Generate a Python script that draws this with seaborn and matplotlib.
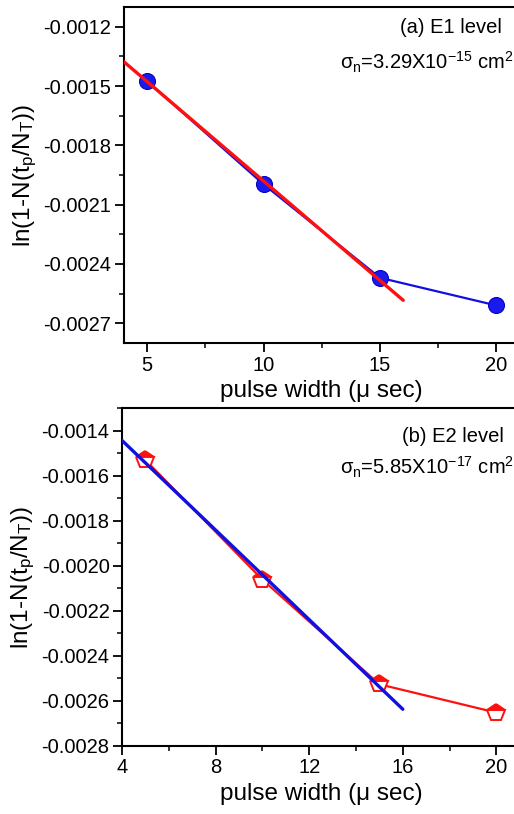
import numpy as np
import pandas as pd
import matplotlib
matplotlib.use("Agg")
import matplotlib.pyplot as plt
import seaborn as sns
from matplotlib.ticker import MultipleLocator

# ---- data ----
pulse_width = [5, 10, 15, 20]
e1_values = [-0.001475, -0.001997, -0.00247, -0.00261]
e1_fit_x = [4, 16]
e1_fit_y = [-0.001377, -0.002584]

e2_values = [-0.00153, -0.002062, -0.002527, -0.002653]
e2_fit_x = [4, 16]
e2_fit_y = [-0.001443, -0.002638]

e1_label = "(a) E1 level"
e1_sigma = r"$\mathregular{\sigma_n}$=3.29X10$^{\mathregular{-15}}$ cm$^{\mathregular{2}}$"
e2_label = "(b) E2 level"
e2_sigma = r"$\mathregular{\sigma_n}$=5.85X10$^{\mathregular{-17}}$ cm$^{\mathregular{2}}$"
xlabel = "pulse width (\u03bc sec)"
ylabel = r"ln(1-N(t$_{\mathregular{p}}$/N$_{\mathregular{T}}$))"

sns.set_style("ticks")
plt.rcParams["font.family"] = ["Liberation Sans", "DejaVu Sans"]
plt.rcParams["mathtext.fontset"] = "custom"
plt.rcParams["mathtext.rm"] = "Liberation Sans"
plt.rcParams["mathtext.it"] = "Liberation Sans"
plt.rcParams["axes.unicode_minus"] = False
plt.rcParams["text.color"] = "black"
plt.rcParams["axes.labelcolor"] = "black"
plt.rcParams["xtick.color"] = "black"
plt.rcParams["ytick.color"] = "black"

fig = plt.figure(figsize=(5.14, 8.14), dpi=100)
ax1 = fig.add_axes([0.241, 0.5786, 0.77, 0.4128])
ax2 = fig.add_axes([0.2374, 0.0839, 0.774, 0.4145])

df1 = pd.DataFrame({"x": pulse_width, "y": e1_values})
df2 = pd.DataFrame({"x": pulse_width, "y": e2_values})
fit1 = pd.DataFrame({"x": e1_fit_x, "y": e1_fit_y})
fit2 = pd.DataFrame({"x": e2_fit_x, "y": e2_fit_y})

# Panel (a)
sns.lineplot(data=df1, x="x", y="y", ax=ax1, color="#1010e0", lw=1.6,
             marker="o", markersize=11.5, markeredgecolor="#0000c0",
             markerfacecolor="#1a1aee", zorder=3)
sns.lineplot(data=fit1, x="x", y="y", ax=ax1, color="#ff1010", lw=2.4, zorder=4)

# Panel (b)
sns.lineplot(data=df2, x="x", y="y", ax=ax2, color="#ff1010", lw=1.6,
             marker="p", markersize=13, fillstyle="top",
             markeredgecolor="#ff1010", markerfacecolor="#ff1010",
             markerfacecoloralt="white", markeredgewidth=1.4, zorder=3)
sns.lineplot(data=fit2, x="x", y="y", ax=ax2, color="#1010e0", lw=2.4, zorder=4)

ax1.set_xlim(4, 21)
ax1.set_ylim(-0.0028, -0.0011)
ax1.xaxis.set_minor_locator(MultipleLocator(2.5))
ax1.set_yticks([-0.0027, -0.0024, -0.0021, -0.0018, -0.0015, -0.0012])
ax1.set_yticklabels(["-0.0027", "-0.0024", "-0.0021", "-0.0018", "-0.0015", "-0.0012"])
ax1.yaxis.set_minor_locator(MultipleLocator(0.00015))
ax1.set_xticks([5, 10, 15, 20])

ax2.set_xlim(4, 21)
ax2.set_ylim(-0.0028, -0.0013)
ax2.set_xticks([4, 8, 12, 16, 20])
ax2.xaxis.set_minor_locator(MultipleLocator(2))
ax2.set_yticks([-0.0028, -0.0026, -0.0024, -0.0022, -0.0020, -0.0018, -0.0016, -0.0014])
ax2.set_yticklabels(["-0.0028", "-0.0026", "-0.0024", "-0.0022", "-0.0020", "-0.0018", "-0.0016", "-0.0014"])
ax2.yaxis.set_minor_locator(MultipleLocator(0.0001))

for ax in (ax1, ax2):
    for s in ax.spines.values():
        s.set_linewidth(1.5)
        s.set_color("black")
    ax.tick_params(which="major", direction="out", length=6.5, width=1.3,
                   labelsize=14.5, colors="black", pad=2.5)
    ax.tick_params(which="minor", direction="out", length=3.5, width=1.1, colors="black")
    ax.set_xlabel(xlabel, fontsize=17.5, labelpad=4, color="black")
    ax.set_ylabel(ylabel, fontsize=17.5, labelpad=3, color="black")

ax1.text(0.955, 0.94, e1_label, transform=ax1.transAxes, ha="right", va="center", fontsize=14.5, color="black")
ax1.text(0.985, 0.835, e1_sigma, transform=ax1.transAxes, ha="right", va="center", fontsize=14.5, color="black")
ax2.text(0.96, 0.915, e2_label, transform=ax2.transAxes, ha="right", va="center", fontsize=14.5, color="black")
ax2.text(0.985, 0.825, e2_sigma, transform=ax2.transAxes, ha="right", va="center", fontsize=14.5, color="black")

fig.savefig("out.png", dpi=100)
